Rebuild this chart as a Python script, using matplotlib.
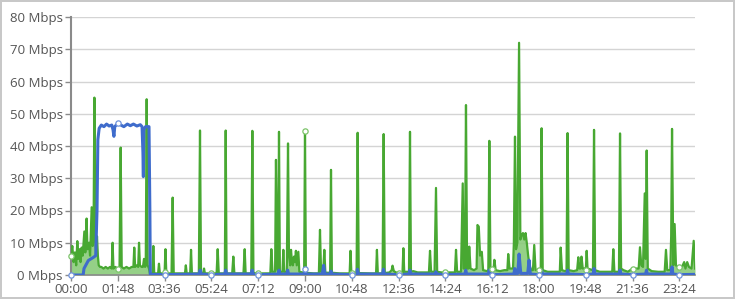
import numpy as np
import matplotlib
matplotlib.use("Agg")
import matplotlib.pyplot as plt

plt.rcParams['font.family'] = ['Open Sans', 'DejaVu Sans']

# minutes since midnight -> Mbps
green_min = [0, 3, 6, 9, 12, 14.6, 17, 20, 22, 24.6, 27, 30.8, 33, 36, 38, 41.5, 44, 47.7, 50, 52, 54, 56, 58, 60, 62, 64, 67,
             70, 75, 80, 85, 90, 94, 96, 98, 102, 108, 112, 114.6, 117, 122, 128, 134, 140, 144, 146, 148, 152, 155, 157, 159,
             163, 166, 168.5, 171, 172.5, 174.6, 177, 180, 182,
             188, 190, 192, 201, 203, 205, 214, 216, 218, 220, 232, 234.6, 237, 263, 265, 267, 275, 277, 279, 295, 297.7, 300,
             305, 307, 309, 324, 336, 338.5, 341, 355, 357, 359, 372, 374.6, 377, 398, 400.8, 403, 416, 418.5, 421, 432,
             460, 462.3, 465, 471, 473, 476, 478, 480, 482, 488, 490, 492, 498, 500.8, 503, 506, 507.7, 510, 512, 514.6, 517,
             519, 521, 524.6, 527, 538, 540, 542,
             560, 572, 574.6, 577, 582, 584.6, 587, 598, 600, 602, 620, 643, 645, 647, 648, 659, 661.5, 664, 690, 704, 706, 708,
             719, 721.5, 724, 735, 740, 742, 745, 750, 756, 765, 767, 769, 780, 782.3, 784.5, 790, 800, 826, 828.5, 831, 839,
             842.3, 845, 855, 864,
             886, 888.5, 891, 900, 904, 906, 909, 911.5, 914, 917, 919, 922, 930, 936, 938, 941, 944, 948, 951, 960, 963, 965.4,
             968, 972, 975, 977, 980, 990, 1000, 1007, 1009, 1012, 1020, 1022, 1024.6, 1027, 1030, 1034, 1037, 1040, 1043,
             1046, 1049, 1052, 1055, 1058, 1062, 1066, 1069, 1072, 1080, 1084, 1086, 1088.5, 1100, 1115, 1128, 1130, 1133,
             1140, 1143.5, 1146, 1148.5,
             1160, 1168, 1170.7, 1173, 1176, 1178, 1181, 1186, 1188, 1190, 1192, 1204.5, 1207, 1209.5, 1220, 1240, 1249,
             1251.5, 1254, 1264.5, 1267, 1269.5, 1275, 1285, 1296, 1305, 1310, 1313, 1316, 1320, 1324, 1326, 1328.5, 1331,
             1340, 1355, 1370, 1373, 1376, 1383, 1385, 1387, 1390, 1393, 1396, 1400, 1404, 1410, 1415, 1418, 1422, 1426,
             1432, 1437, 1440]
green_mbps = [6, 9, 4, 7, 3, 10.5, 5, 8, 4, 8.5, 6, 13.5, 7, 17.5, 8, 10, 6, 21, 9, 12, 55, 10, 7, 12, 6, 3, 2.5,
              2.5, 2, 2.5, 2, 2.5, 2, 10, 2, 2.5, 2, 2.5, 39.5, 2.5, 2, 2.5, 2, 2.5, 2.5, 8.5, 2.5, 3, 2.5, 10, 3,
              2.5, 2.5, 5, 2.5, 3, 54.5, 3, 2, 0.5,
              0.5, 9, 0.5, 0.5, 3.5, 0.5, 0.5, 0.8, 8, 0.5, 0.5, 24, 0.5, 0.5, 3, 0.5, 0.5, 7.8, 0.5, 0.5, 44.8, 0.5,
              0.5, 2, 0.5, 0.5, 0.5, 8, 0.5, 0.5, 44.8, 0.5, 0.5, 5.7, 0.5, 0.5, 8, 0.5, 0.5, 44.7, 0.6, 0.5,
              0.5, 8, 1, 1, 35.7, 2, 1, 44.4, 1, 1, 7.8, 1, 1, 40.8, 6, 3, 7.8, 4, 3, 5.7, 4,
              7.5, 3, 7.2, 1, 0.7, 44.7, 0.7,
              0.5, 0.5, 14, 1, 1, 7.8, 0.7, 0.7, 32.6, 0.7, 0.5, 0.5, 7.5, 0.8, 0.6, 0.6, 44.1, 0.6, 0.5, 0.5, 7.8, 0.5,
              0.5, 43.7, 0.6, 0.8, 1.5, 2.9, 1.2, 0.8, 0.6, 0.8, 8.3, 1, 1, 44.4, 1, 1.2, 0.8, 0.8, 7.5, 1, 1,
              27, 1, 0.8, 0.8,
              0.8, 7.8, 1, 1, 28.4, 2, 2, 52.7, 2, 2, 8.8, 2, 1.5, 2, 15.5, 15, 6, 7.2, 1.5, 1.2, 1.5, 41.6,
              1.5, 2, 1.5, 4.7, 1.5, 1.2, 1.5, 1.5, 6.5, 2, 2, 10, 42.9, 8, 10, 72, 11, 12.5, 13,
              11, 13, 9.8, 6, 3, 1.5, 1.5, 9.3, 1.5, 1.7, 1.5, 45.5, 1.5, 1, 1, 1, 8.5, 1.5,
              1.2, 1.2, 44, 1.5,
              1.2, 1.5, 5.5, 2, 2, 5.7, 2, 2, 1.5, 7.5, 2, 1.5, 45, 1.5, 1, 1, 1,
              8, 1, 1, 43.9, 2, 1.5, 1, 2, 2, 2, 8.6, 3, 2.5, 25.3, 5, 38.6, 2,
              1.2, 1, 1, 7.8, 1.5, 1.5, 12, 45.3, 3, 15.8, 3, 2.5, 2.5, 2.5, 4, 2, 4, 2.5,
              2, 10.6, 2]

blue_min = [0, 28, 30, 34, 40, 46, 52, 57, 60, 62, 65, 70, 76, 82, 88, 94, 97, 99, 101, 108, 115, 122, 130, 137, 144,
            152, 160, 164, 166, 167, 168, 172, 178, 180, 182, 183, 216, 296, 298, 300, 324, 355, 357, 359, 416, 418, 420,
            432, 478, 480, 482, 498, 500, 502, 538, 540, 542, 580, 583, 586, 598, 600, 602, 648, 659, 661, 663, 719, 721,
            723, 756, 780, 782, 784, 840, 842, 844, 864, 909, 911, 913, 963, 965, 967, 972, 1022, 1024, 1027, 1031, 1034,
            1038, 1054, 1057, 1060, 1080, 1084, 1086, 1088, 1144, 1146, 1148, 1188, 1205, 1207, 1209, 1265, 1267, 1269,
            1296, 1326, 1328, 1330, 1385, 1387, 1389, 1404, 1440]
blue_mbps = [0, 0, 2, 3, 4.5, 5, 5.5, 6, 20, 42, 45.5, 46.5, 46, 46.8, 46.2, 46.5, 45, 43, 46, 47, 46.5, 46, 46.8, 46.3,
             46.8, 46.2, 46.6, 46, 38, 30.5, 45, 46, 46, 46, 20, 0.2, 0.1, 0.3, 1.5, 0.3, 0.1, 0.3, 1.5, 0.3, 0.3, 1.5,
             0.3, 0.1, 0.3, 1.5, 0.3, 0.3, 1.5, 0.3, 0.3, 1.8, 0.3, 0.3, 3, 0.3, 0.3, 1.2, 0.3, 0.1, 0.3, 1.8, 0.3,
             0.3, 1.8, 0.3, 0.1, 0.3, 1.5, 0.3, 0.3, 1, 0.3, 0.1, 0.3, 1.5, 0.3, 0.3, 1.5, 0.3, 0.1, 0.3, 2, 0.5, 0.5,
             6.5, 0.5, 0.5, 4.6, 0.3, 0.1, 0.3, 1.5, 0.3, 0.3, 1.5, 0.3, 0.1, 0.3, 2, 0.3, 0.3, 1.5, 0.3, 0.1, 0.3, 1.5,
             0.3, 0.3, 2.5, 0.3, 0.1, 0.2]

tick_min = [0, 108, 216, 324, 432, 540, 648, 756, 864, 972, 1080, 1188, 1296, 1404]
tick_labels = ['00:00', '01:48', '03:36', '05:24', '07:12', '09:00', '10:48', '12:36',
               '14:24', '16:12', '18:00', '19:48', '21:36', '23:24']
y_ticks = [0, 10, 20, 30, 40, 50, 60, 70, 80]

GREEN = '#48a832'
BLUE = '#3f6ccc'
TXT = '#555555'

fig = plt.figure(figsize=(7.35, 2.99), dpi=100, facecolor='white', edgecolor='#c8c8c8', linewidth=1.5)
ax = fig.add_axes([71 / 735, 24 / 299, 624 / 735, 258 / 299])

gt = np.array(green_min)
gv = np.array(green_mbps)
bt = np.array(blue_min)
bv = np.array(blue_mbps)

ax.fill_between(gt, 0, gv, color='#8acb7a', alpha=0.9, lw=0, zorder=2)
ax.plot(gt, gv, color=GREEN, lw=1.6, zorder=3)
ax.plot(bt, bv, color=BLUE, lw=2.2, zorder=4, solid_joinstyle='round')

# white dot markers on the tick times
gm = np.isin(gt, tick_min)
bm = np.isin(bt, tick_min)
ax.plot(gt[gm], gv[gm], 'o', ms=3.8, mfc='white', mec='#7cc46a', mew=0.9, zorder=5, clip_on=False)
ax.plot(bt[bm], bv[bm], 'o', ms=3.8, mfc='white', mec='#6f93dc', mew=0.9, zorder=6, clip_on=False)

ax.set_xlim(0, 1440)
ax.set_ylim(0, 80)
ax.set_yticks(y_ticks)
ax.set_yticklabels([f'{v} Mbps' for v in y_ticks])
ax.set_xticks(tick_min)
ax.set_xticklabels(tick_labels)
ax.grid(axis='y', color='#d4d4d4', lw=1.0, zorder=0)
ax.set_axisbelow(True)

for s in ['top', 'right']:
    ax.spines[s].set_visible(False)
ax.spines['left'].set_color('#8a8a8a')
ax.spines['left'].set_linewidth(1.5)
ax.spines['bottom'].set_color('#8a8a8a')
ax.spines['bottom'].set_linewidth(1.2)
ax.tick_params(axis='both', colors='#8a8a8a', labelcolor=TXT, labelsize=9.5, length=4, width=1, pad=2)

fig.savefig('out.png', dpi=100)
